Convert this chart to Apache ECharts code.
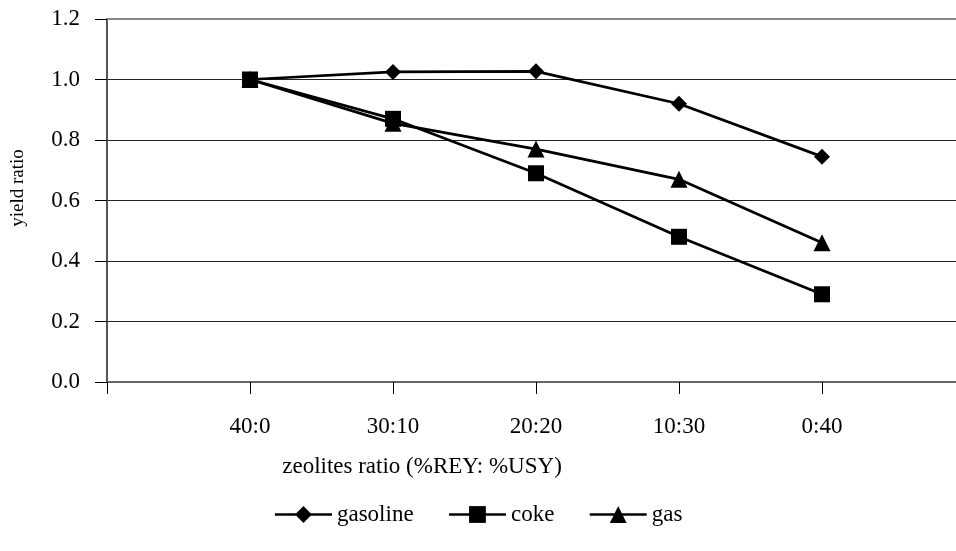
<!DOCTYPE html>
<html>
<head>
<meta charset="utf-8">
<script src="https://cdn.jsdelivr.net/npm/echarts@6/dist/echarts.min.js"></script>
<style>html,body{margin:0;padding:0;background:#fff;}#c{width:956px;height:551px;}</style>
</head>
<body>
<div id="c"></div>
<script>
var categories = ['', '40:0', '30:10', '20:20', '10:30', '0:40', ''];
var gasoline = [null, 1.0, 1.025, 1.027, 0.92, 0.745, null];
var coke = [null, 1.0, 0.87, 0.69, 0.48, 0.29, null];
var gas = [null, 1.0, 0.855, 0.77, 0.67, 0.46, null];
var yTicks = {min: 0, max: 1.2, interval: 0.2};
var xTitle = 'zeolites ratio (%REY: %USY)';
var yTitle = 'yield ratio';

var font = 'Liberation Serif';
var chart = echarts.init(document.getElementById('c'), null, {renderer: 'canvas'});
function ser(name, data, symbol, size) {
  return {
    name: name, type: 'line', data: data, symbol: symbol, symbolSize: size,
    showSymbol: true, connectNulls: false,
    lineStyle: {color: '#000', width: 2.7},
    itemStyle: {color: '#000'},
    emphasis: {disabled: true}, animation: false
  };
}
chart.setOption({
  animation: false,
  grid: {left: 107, top: 19, width: 858, height: 363, containLabel: false, outerBoundsMode: 'none'},
  xAxis: [{
    type: 'category', data: categories, boundaryGap: false, position: 'bottom',
    axisLine: {lineStyle: {color: '#666', width: 2}},
    axisTick: {show: true, length: 12, lineStyle: {color: '#000', width: 1}, alignWithLabel: true},
    axisLabel: {margin: 33, color: '#000', fontFamily: font, fontSize: 23, interval: 0},
    splitLine: {show: false}
  }, {
    type: 'category', data: categories, boundaryGap: false, position: 'top',
    axisLine: {show: true, lineStyle: {color: '#888', width: 2}},
    axisTick: {show: false}, axisLabel: {show: false}, splitLine: {show: false}
  }],
  yAxis: {
    type: 'value', min: yTicks.min, max: yTicks.max, interval: yTicks.interval,
    axisLine: {show: true, lineStyle: {color: '#555', width: 2}},
    axisTick: {show: true, length: 12, lineStyle: {color: '#000', width: 1}},
    axisLabel: {margin: 27, color: '#000', fontFamily: font, fontSize: 23,
      formatter: function (v) { return v.toFixed(1); }},
    splitLine: {show: true, lineStyle: {color: '#222', width: 1}}
  },
  legend: {
    bottom: 20, left: 'center', itemWidth: 57, itemHeight: 21, itemGap: 34,
    textStyle: {fontFamily: font, fontSize: 23, color: '#000'},
    lineStyle: {width: 2.7},
    data: ['gasoline', 'coke', 'gas']
  },
  graphic: [
    {type: 'text', x: 422, y: 467, style: {text: xTitle, font: '23px "Liberation Serif"', fill: '#000', align: 'center', verticalAlign: 'middle'}},
    {type: 'text', x: 18, y: 188, rotation: Math.PI / 2, style: {text: yTitle, font: '19px "Liberation Serif"', fill: '#000', align: 'center', verticalAlign: 'middle'}}
  ],
  series: [
    ser('gasoline', gasoline, 'diamond', 16),
    ser('gas', gas, 'triangle', 17),
    ser('coke', coke, 'rect', 16)
  ]
});
</script>
</body>
</html>
